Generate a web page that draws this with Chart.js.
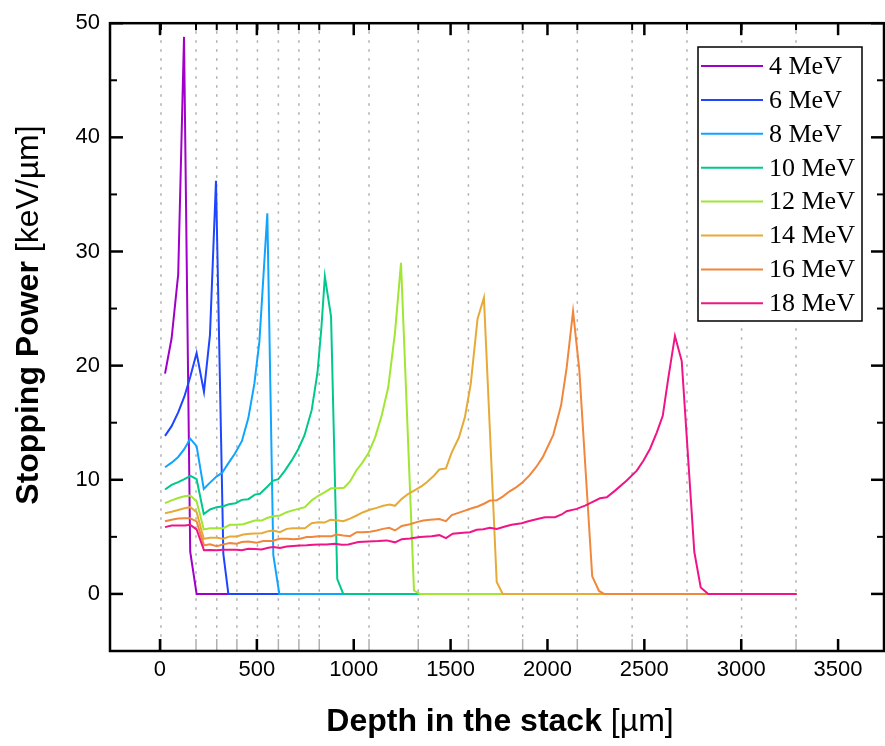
<!DOCTYPE html>
<html><head><meta charset="utf-8">
<script src="https://cdn.jsdelivr.net/npm/chart.js@4.4.1/dist/chart.umd.min.js"></script>
<style>html,body{margin:0;padding:0;background:#fff;} #wrap{width:885px;height:746px;position:relative;}</style>
</head><body><div id="wrap"><canvas id="c" width="885" height="746"></canvas></div>
<script>
// ---------------- data ----------------
const seriesLabels = ['4 MeV','6 MeV','8 MeV','10 MeV','12 MeV','14 MeV','16 MeV','18 MeV'];
const xTickValues = [0, 500, 1000, 1500, 2000, 2500, 3000, 3500];
const yTickValues = [0, 10, 20, 30, 40, 50];
const yMinorValues = [5, 15, 25, 35, 45];
const layerEdges = [5, 186, 293, 397, 503, 611, 717, 822, 1079, 1333, 1592, 1872, 2154, 2437, 2720, 3002, 3283];

const depth4 = [26, 60, 94, 124, 156, 189, 3286];
const sp4    = [19.3, 22.4, 28.0, 48.8, 3.7, 0, 0];

const depth6 = [26, 60, 94, 126, 156, 189, 227, 258, 289, 327, 353, 3286];
const sp6    = [13.85, 14.7, 15.9, 17.3, 19.0, 21.1, 17.7, 22.7, 36.2, 3.5, 0, 0];

const depth8 = [26, 60, 94, 126, 156, 189, 226, 258, 293, 320, 355, 387, 423, 456, 487, 513, 528, 554, 585, 616, 3286];
const sp8    = [11.1, 11.5, 12.0, 12.7, 13.6, 12.95, 9.2, 9.75, 10.3, 10.6, 11.5, 12.3, 13.4, 15.4, 18.4, 22.1, 26.2, 33.35, 3.4, 0, 0];

const depth10 = [26, 60, 94, 126, 157, 189, 226, 258, 293, 327, 356, 390, 422, 456, 490, 516, 551, 585, 611, 645, 680, 714, 746, 783, 813, 833, 851, 883, 915, 946, 3286];
const sp10    = [9.15, 9.55, 9.8, 10.05, 10.35, 10.05, 7.0, 7.4, 7.6, 7.68, 7.85, 7.95, 8.24, 8.3, 8.7, 8.77, 9.35, 9.93, 10.05, 10.8, 11.7, 12.7, 13.9, 16.1, 19.4, 23.3, 27.8, 24.3, 1.3, 0, 0];

const depth12 = [26, 60, 94, 126, 156, 189, 226, 258, 293, 327, 361, 396, 430, 465, 490, 525, 552, 585, 619, 654, 681, 714, 748, 783, 817, 849, 883, 919, 950, 981, 1015, 1042, 1075, 1110, 1144, 1178, 1213, 1244, 1311, 1342, 3286];
const sp12    = [7.95, 8.2, 8.4, 8.55, 8.62, 8.12, 5.65, 5.76, 5.76, 5.76, 6.06, 6.06, 6.1, 6.3, 6.43, 6.43, 6.65, 6.8, 6.87, 7.16, 7.3, 7.45, 7.6, 8.2, 8.6, 8.9, 9.25, 9.25, 9.3, 9.85, 10.86, 11.44, 12.3, 13.7, 15.6, 18.1, 22.9, 29.0, 0.3, 0, 0];

const depth14 = [26, 60, 94, 126, 156, 189, 226, 258, 293, 327, 361, 396, 430, 465, 490, 525, 559, 585, 619, 654, 685, 714, 748, 783, 817, 849, 880, 912, 946, 981, 1015, 1049, 1083, 1118, 1152, 1186, 1213, 1248, 1282, 1316, 1351, 1377, 1411, 1442, 1476, 1506, 1543, 1574, 1604, 1639, 1672, 1738, 1769, 3286];
const sp14    = [7.07, 7.2, 7.35, 7.5, 7.6, 7.16, 4.83, 4.92, 4.92, 4.83, 5.04, 5.04, 5.2, 5.27, 5.3, 5.32, 5.5, 5.56, 5.41, 5.7, 5.76, 5.76, 5.76, 6.2, 6.27, 6.25, 6.5, 6.45, 6.37, 6.6, 6.87, 7.16, 7.37, 7.54, 7.72, 7.83, 7.72, 8.33, 8.77, 9.1, 9.45, 9.78, 10.3, 10.9, 11.0, 12.4, 13.7, 15.5, 18.4, 24.1, 25.95, 1.05, 0, 0];

const depth16 = [26, 60, 94, 126, 156, 189, 227, 258, 293, 327, 361, 396, 422, 456, 499, 533, 577, 619, 654, 688, 723, 757, 783, 817, 852, 886, 912, 946, 981, 1015, 1049, 1084, 1118, 1151, 1183, 1213, 1248, 1290, 1325, 1359, 1394, 1442, 1476, 1506, 1540, 1574, 1609, 1640, 1672, 1703, 1738, 1769, 1803, 1838, 1872, 1906, 1941, 1975, 2030, 2070, 2099, 2132, 2164, 2231, 2266, 2292, 3286];
const sp16    = [6.37, 6.5, 6.6, 6.62, 6.63, 6.35, 4.25, 4.34, 4.19, 4.34, 4.45, 4.4, 4.54, 4.6, 4.49, 4.63, 4.63, 4.84, 4.84, 4.78, 4.84, 4.98, 4.98, 5.06, 5.06, 5.06, 5.2, 5.12, 5.06, 5.41, 5.41, 5.45, 5.56, 5.7, 5.8, 5.56, 5.95, 6.1, 6.29, 6.43, 6.5, 6.57, 6.37, 6.9, 7.1, 7.3, 7.5, 7.66, 7.9, 8.18, 8.2, 8.53, 8.97, 9.34, 9.78, 10.36, 11.1, 11.96, 13.94, 16.5, 19.8, 24.75, 19.7, 1.54, 0.26, 0, 0];

const depth18 = [26, 60, 94, 129, 156, 189, 227, 258, 293, 327, 361, 396, 422, 456, 490, 525, 559, 585, 619, 654, 688, 723, 757, 791, 826, 860, 903, 938, 972, 1024, 1075, 1127, 1170, 1213, 1248, 1290, 1342, 1402, 1442, 1476, 1511, 1565, 1600, 1635, 1669, 1703, 1738, 1781, 1815, 1867, 1901, 1953, 1987, 2039, 2073, 2099, 2151, 2194, 2236, 2271, 2306, 2349, 2409, 2461, 2495, 2529, 2564, 2595, 2624, 2658, 2693, 2758, 2791, 2830, 3286];
const sp18    = [5.85, 6.0, 6.0, 6.0, 6.05, 5.65, 3.82, 3.84, 3.82, 3.87, 3.87, 3.87, 3.82, 3.96, 3.93, 3.9, 4.05, 4.1, 4.02, 4.16, 4.2, 4.25, 4.27, 4.31, 4.32, 4.34, 4.4, 4.31, 4.34, 4.54, 4.6, 4.63, 4.69, 4.52, 4.8, 4.86, 4.98, 5.06, 5.15, 4.89, 5.27, 5.36, 5.41, 5.62, 5.67, 5.8, 5.7, 5.91, 6.06, 6.2, 6.37, 6.58, 6.72, 6.72, 6.96, 7.25, 7.45, 7.74, 8.09, 8.38, 8.47, 9.05, 9.93, 10.8, 11.67, 12.7, 14.14, 15.6, 18.95, 22.6, 20.4, 3.67, 0.56, 0, 0];

const depths = [depth4, depth6, depth8, depth10, depth12, depth14, depth16, depth18];
const values = [sp4, sp6, sp8, sp10, sp12, sp14, sp16, sp18];

// ---------------- styles ----------------
const lineColors = ['#A000C8', '#1E46FF', '#0FA5FF', '#00C88C', '#A0E632', '#E6AA37', '#F0873C', '#F01487'];
const tickFontFamily = "'Liberation Sans Narrow', 'Liberation Sans', Arial, sans-serif";
const titleFamily = "'Liberation Sans', Arial, sans-serif";
const legendFamily = "'Liberation Serif', 'Times New Roman', serif";

const datasets = seriesLabels.map((lab, i) => ({
  label: lab,
  data: depths[i].map((d, k) => ({x: d, y: values[i][k]})),
  borderColor: lineColors[i],
  backgroundColor: lineColors[i],
  borderWidth: 2,
  pointRadius: 0,
  tension: 0,
  fill: false,
  showLine: true,
  order: seriesLabels.length - i
}));

const decoPlugin = {
  id: 'deco',
  beforeDatasetsDraw(chart) {
    const {ctx, chartArea: a, scales: {x}} = chart;
    ctx.save();
    ctx.strokeStyle = '#b0b0b0';
    ctx.lineWidth = 1.5;
    ctx.setLineDash([2.5, 6.5]);
    layerEdges.forEach(d => {
      const px = x.getPixelForValue(d);
      ctx.beginPath(); ctx.moveTo(px, a.top + 8); ctx.lineTo(px, a.bottom - 12); ctx.stroke();
    });
    ctx.setLineDash([]);
    layerEdges.forEach(d => {
      const px = x.getPixelForValue(d);
      ctx.beginPath(); ctx.moveTo(px, a.bottom); ctx.lineTo(px, a.bottom - 12); ctx.stroke();
    });
    ctx.restore();
  },
  afterDatasetsDraw(chart) {
    const {ctx, chartArea: a, scales: {x, y}} = chart;
    ctx.save();
    ctx.strokeStyle = '#000';
    ctx.lineWidth = 2;
    layerEdges.forEach(d => {
      const px = x.getPixelForValue(d);
      ctx.beginPath(); ctx.moveTo(px, a.top); ctx.lineTo(px, a.top + 7); ctx.stroke();
    });
    ctx.lineWidth = 2.5;
    xTickValues.forEach(v => {
      const px = x.getPixelForValue(v);
      ctx.beginPath(); ctx.moveTo(px, a.bottom); ctx.lineTo(px, a.bottom - 12); ctx.stroke();
      ctx.beginPath(); ctx.moveTo(px, a.top); ctx.lineTo(px, a.top + 12); ctx.stroke();
    });
    yTickValues.forEach(v => {
      const py = y.getPixelForValue(v);
      ctx.beginPath(); ctx.moveTo(a.left, py); ctx.lineTo(a.left + 13, py); ctx.stroke();
      ctx.beginPath(); ctx.moveTo(a.right, py); ctx.lineTo(a.right - 13, py); ctx.stroke();
    });
    ctx.lineWidth = 2;
    yMinorValues.forEach(v => {
      const py = y.getPixelForValue(v);
      ctx.beginPath(); ctx.moveTo(a.left, py); ctx.lineTo(a.left + 7, py); ctx.stroke();
      ctx.beginPath(); ctx.moveTo(a.right, py); ctx.lineTo(a.right - 7, py); ctx.stroke();
    });
    ctx.lineWidth = 2.5;
    ctx.strokeRect(a.left, a.top, a.right - a.left, a.bottom - a.top);
    ctx.restore();
  },
  afterDraw(chart) {
    const {ctx} = chart;
    ctx.save();
    const bx = 698, by = 47, bw = 164, bh = 274;
    ctx.fillStyle = '#fff';
    ctx.fillRect(bx, by, bw, bh);
    ctx.strokeStyle = '#000';
    ctx.lineWidth = 1.5;
    ctx.strokeRect(bx, by, bw, bh);
    ctx.font = '26px ' + legendFamily;
    ctx.textBaseline = 'middle';
    ctx.textAlign = 'left';
    chart.data.datasets.forEach((ds, i) => {
      const ry = 66 + i * 33.9;
      ctx.strokeStyle = ds.borderColor;
      ctx.lineWidth = 2;
      ctx.beginPath(); ctx.moveTo(701, ry); ctx.lineTo(763, ry); ctx.stroke();
      ctx.fillStyle = '#000';
      ctx.fillText(ds.label, 769, ry + 1);
    });
    function mixed(boldText, normalText, cx, cy) {
      ctx.font = 'bold 32px ' + titleFamily;
      const wb = ctx.measureText(boldText).width;
      ctx.font = '32px ' + titleFamily;
      const wn = ctx.measureText(normalText).width;
      const start = cx - (wb + wn) / 2;
      ctx.textAlign = 'left';
      ctx.textBaseline = 'alphabetic';
      ctx.fillStyle = '#000';
      ctx.font = 'bold 32px ' + titleFamily;
      ctx.fillText(boldText, start, cy);
      ctx.font = '32px ' + titleFamily;
      ctx.fillText(normalText, start + wb, cy);
    }
    mixed('Depth in the stack', ' [\u00b5m]', 500, 731);
    ctx.save();
    ctx.translate(38, 315);
    ctx.rotate(-Math.PI / 2);
    mixed('Stopping Power', ' [keV/\u00b5m]', 0, 0);
    ctx.restore();
    ctx.restore();
  }
};

new Chart(document.getElementById('c'), {
  type: 'scatter',
  data: {datasets},
  options: {
    responsive: false,
    devicePixelRatio: 1,
    animation: false,
    layout: {padding: {top: 21, right: 1, left: 0, bottom: 0}},
    plugins: {legend: {display: false}, tooltip: {enabled: false}},
    scales: {
      x: {
        type: 'linear', position: 'bottom', min: -258, max: 3737,
        afterBuildTicks: s => { s.ticks = xTickValues.map(v => ({value: v})); },
        afterFit: s => { s.height = 95; },
        grid: {display: false, drawTicks: false},
        border: {display: false},
        ticks: {font: {family: tickFontFamily, size: 22}, color: '#000', padding: 6, maxRotation: 0, autoSkip: false, callback: v => String(v)}
      },
      y: {
        type: 'linear', position: 'left', min: -5, max: 50,
        afterBuildTicks: s => { s.ticks = yTickValues.map(v => ({value: v})); },
        afterFit: s => { s.width = 110; },
        grid: {display: false, drawTicks: false},
        border: {display: false},
        ticks: {font: {family: tickFontFamily, size: 22}, color: '#000', padding: 10, callback: v => String(v)}
      }
    }
  },
  plugins: [decoPlugin]
});
</script></body></html>
